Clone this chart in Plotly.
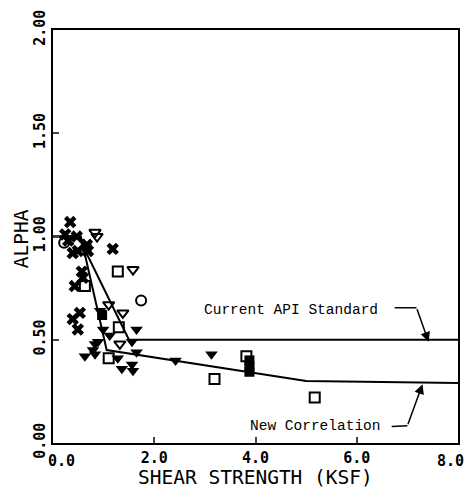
import plotly.graph_objects as go

# ---- data ----
x_ticks = [0, 2, 4, 6, 8]
x_tick_labels = ["0.0", "2.0", "4.0", "6.0", "8.0"]
y_ticks = [0, 0.5, 1.0, 1.5, 2.0]
y_tick_labels = ["0.00", "0.50", "1.00", "1.50", "2.00"]

api_s = [0.0, 0.5, 1.5, 8.0]
api_a = [1.0, 1.0, 0.5, 0.5]
new_s = [0.0, 0.55, 1.06, 5.0, 8.0]
new_a = [1.0, 1.0, 0.45, 0.30, 0.29]

star_s = [0.34, 0.24, 0.47, 0.39, 0.49, 0.67, 0.69, 1.18, 0.57, 0.59, 0.43, 0.53, 0.39, 0.49, 0.30]
star_a = [1.07, 1.01, 1.00, 0.92, 0.93, 0.96, 0.93, 0.94, 0.83, 0.80, 0.76, 0.63, 0.60, 0.55, 0.98]

circ_s = [0.22, 1.74]
circ_a = [0.97, 0.69]

osq_s = [1.28, 0.63, 1.30, 1.10, 3.19, 3.82, 5.17]
osq_a = [0.83, 0.76, 0.56, 0.41, 0.31, 0.42, 0.22]

otri_s = [0.83, 0.87, 1.58, 1.10, 1.38, 1.32]
otri_a = [1.02, 1.00, 0.84, 0.67, 0.63, 0.48]

ftri_s = [0.93, 1.65, 0.99, 1.12, 0.89, 0.83, 1.56, 0.79, 0.63, 0.83, 1.65, 1.28, 1.36, 1.56, 1.58, 2.42, 3.13]
ftri_a = [0.64, 0.55, 0.55, 0.52, 0.49, 0.48, 0.49, 0.45, 0.42, 0.43, 0.44, 0.41, 0.36, 0.38, 0.35, 0.40, 0.43]

fsq_s = [3.88, 3.88, 3.88, 0.97, 0.66]
fsq_a = [0.40, 0.37, 0.345, 0.62, 0.95]

api_label = "Current API Standard"
new_label = "New Correlation"

fig = go.Figure()
line_style = dict(color="black", width=2)
fig.add_trace(go.Scatter(x=api_s, y=api_a, mode="lines", line=line_style))
fig.add_trace(go.Scatter(x=new_s, y=new_a, mode="lines", line=line_style))

fig.add_trace(go.Scatter(x=star_s, y=star_a, mode="markers",
                         marker=dict(symbol="x", size=11, color="black")))
fig.add_trace(go.Scatter(x=circ_s, y=circ_a, mode="markers",
                         marker=dict(symbol="circle-open", size=10, color="black", line=dict(width=2))))
fig.add_trace(go.Scatter(x=osq_s, y=osq_a, mode="markers",
                         marker=dict(symbol="square-open", size=10, color="black", line=dict(width=2))))
fig.add_trace(go.Scatter(x=otri_s, y=otri_a, mode="markers",
                         marker=dict(symbol="triangle-down-open", size=10, color="black", line=dict(width=2))))
fig.add_trace(go.Scatter(x=ftri_s, y=ftri_a, mode="markers",
                         marker=dict(symbol="triangle-down", size=11, color="black")))
fig.add_trace(go.Scatter(x=fsq_s, y=fsq_a, mode="markers",
                         marker=dict(symbol="square", size=10, color="black")))

mono = "Liberation Mono"
fig.add_annotation(x=4.71, y=0.645, text=api_label, showarrow=False,
                   font=dict(family=mono, size=14.5, color="black"))
fig.add_annotation(x=5.19, y=0.083, text=new_label, showarrow=False,
                   font=dict(family=mono, size=14.5, color="black"))
fig.add_shape(type="line", x0=6.75, y0=0.655, x1=7.18, y1=0.655, line=dict(color="black", width=1.5))
fig.add_shape(type="line", x0=6.69, y0=0.08, x1=7.0, y1=0.083, line=dict(color="black", width=1.5))
fig.add_annotation(x=7.42, y=0.49, ax=7.18, ay=0.655, axref="x", ayref="y", xref="x", yref="y",
                   showarrow=True, arrowhead=2, arrowsize=1.3, arrowwidth=1.5, arrowcolor="black", text="")
fig.add_annotation(x=7.30, y=0.285, ax=7.0, ay=0.083, axref="x", ayref="y", xref="x", yref="y",
                   showarrow=True, arrowhead=2, arrowsize=1.3, arrowwidth=1.5, arrowcolor="black", text="")

title_font = dict(family="DejaVu Sans Mono", size=19.5, color="black")
fig.add_annotation(x=-0.076, y=0.494, xref="paper", yref="paper", text="ALPHA", textangle=-90,
                   showarrow=False, xanchor="center", yanchor="middle", font=title_font)
fig.add_annotation(x=0.5, y=-0.092, xref="paper", yref="paper", text="SHEAR STRENGTH (KSF)",
                   showarrow=False, xanchor="center", yanchor="middle", yshift=3, font=title_font)

tick_font = dict(family="DejaVu Sans Mono", size=15, color="black", weight="bold")
inner_text = [""] + x_tick_labels[1:-1] + [""]
fig.add_annotation(x=x_ticks[0], y=0, xref="x", yref="paper", text=x_tick_labels[0],
                   showarrow=False, xanchor="left", yanchor="top", xshift=-7, yshift=-7, font=tick_font)
fig.add_annotation(x=x_ticks[-1], y=0, xref="x", yref="paper", text=x_tick_labels[-1],
                   showarrow=False, xanchor="right", yanchor="top", xshift=8, yshift=-7, font=tick_font)

fig.update_xaxes(range=[0, 8], tickvals=x_ticks, ticktext=inner_text, ticks="inside",
                 ticklen=6, tickwidth=1.5, showline=True, linewidth=2, linecolor="black",
                 mirror=True, showgrid=False, zeroline=False, tickfont=tick_font, automargin=False)
fig.update_yaxes(range=[0, 2], tickvals=y_ticks, ticktext=y_tick_labels, ticks="inside",
                 ticklen=6, tickwidth=1.5, showline=True, linewidth=2, linecolor="black",
                 mirror=True, showgrid=False, zeroline=False, tickfont=tick_font, tickangle=-90,
                 automargin=False)

fig.update_layout(width=466, height=488, margin=dict(l=53, r=8, t=30, b=45),
                  plot_bgcolor="white", paper_bgcolor="white", showlegend=False)

fig.write_html("out.html", config={"displayModeBar": False},
               post_script="document.body.style.margin='0';document.body.style.overflow='hidden';")
